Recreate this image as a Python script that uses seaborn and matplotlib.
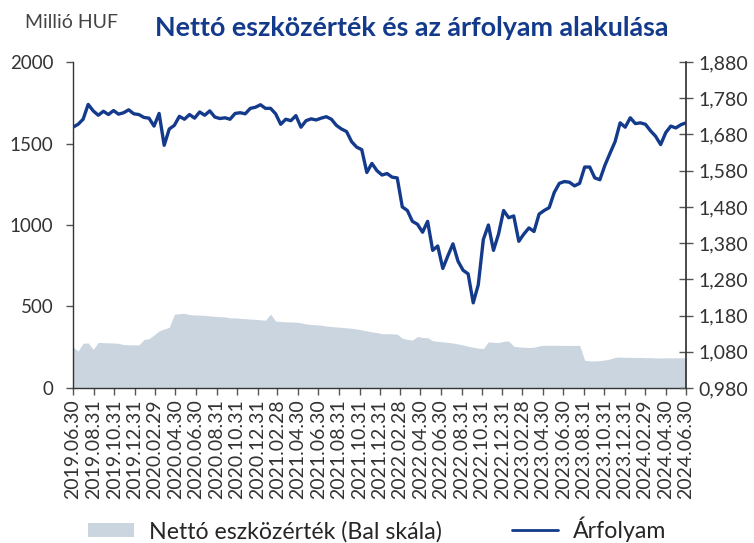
import numpy as np
import pandas as pd
import matplotlib.pyplot as plt
import seaborn as sns
from matplotlib.patches import Patch
from matplotlib.lines import Line2D

sns.set_theme(style="white")
plt.rcParams['font.family'] = ['Lato', 'DejaVu Sans']

# semi-monthly readings, 2019.06.30 - 2024.06.30
price = [1.700, 1.708, 1.722, 1.763, 1.745, 1.733, 1.744, 1.735, 1.746, 1.736,
         1.740, 1.748, 1.737, 1.735, 1.727, 1.725, 1.703, 1.738, 1.650, 1.695,
         1.705, 1.730, 1.722, 1.735, 1.725, 1.742, 1.733, 1.745, 1.728, 1.724,
         1.726, 1.722, 1.738, 1.740, 1.737, 1.752, 1.755, 1.762, 1.752, 1.752,
         1.737, 1.708, 1.722, 1.718, 1.732, 1.700, 1.718, 1.723, 1.720, 1.725,
         1.729, 1.722, 1.705, 1.695, 1.688, 1.660, 1.645, 1.638, 1.575, 1.600,
         1.580, 1.568, 1.572, 1.562, 1.560, 1.480, 1.470, 1.440, 1.432, 1.410,
         1.440, 1.360, 1.372, 1.310, 1.345, 1.378, 1.330, 1.305, 1.295, 1.215,
         1.265, 1.390, 1.430, 1.360, 1.405, 1.470, 1.450, 1.455, 1.385, 1.405,
         1.422, 1.412, 1.460, 1.470, 1.478, 1.520, 1.545, 1.550, 1.548, 1.538,
         1.545, 1.590, 1.590, 1.560, 1.555, 1.595, 1.628, 1.660, 1.712, 1.700,
         1.726, 1.710, 1.712, 1.708, 1.690, 1.675, 1.652, 1.685, 1.703, 1.698,
         1.707, 1.712]

nav = [250, 227, 275, 276, 237, 280, 278, 277, 276, 274,
       266, 265, 265, 264, 297, 302, 325, 350, 362, 372,
       452, 456, 458, 450, 448, 447, 446, 442, 440, 437,
       436, 430, 430, 427, 425, 423, 421, 418, 416, 453,
       410, 408, 406, 405, 404, 400, 393, 390, 388, 385,
       380, 377, 374, 372, 369, 366, 362, 356, 350, 344,
       340, 333, 333, 332, 330, 305, 298, 294, 316, 310,
       308, 290, 286, 283, 280, 276, 270, 264, 256, 250,
       244, 242, 283, 280, 278, 286, 288, 256, 252, 250,
       248, 250, 258, 262, 262, 262, 262, 261, 261, 261,
       262, 170, 166, 166, 168, 172, 178, 188, 190, 188,
       188, 187, 187, 186, 186, 184, 184, 185, 185, 185,
       185, 185]

tick_labels = ["2019.06.30", "2019.08.31", "2019.10.31", "2019.12.31", "2020.02.29",
               "2020.04.30", "2020.06.30", "2020.08.31", "2020.10.31", "2020.12.31",
               "2021.02.28", "2021.04.30", "2021.06.30", "2021.08.31", "2021.10.31",
               "2021.12.31", "2022.02.28", "2022.04.30", "2022.06.30", "2022.08.31",
               "2022.10.31", "2022.12.31", "2023.02.28", "2023.04.30", "2023.06.30",
               "2023.08.31", "2023.10.31", "2023.12.31", "2024.02.29", "2024.04.30",
               "2024.06.30"]

dates = pd.date_range("2019-06-30", "2024-06-30", periods=len(price))
df = pd.DataFrame({"date": dates, "price": price, "nav": nav})

blue = "#143a8c"
grey = "#cbd5df"
dark = "#333333"

fig = plt.figure(figsize=(7.54, 5.43), dpi=100)
ax = fig.add_axes([0.0968, 0.2855, 0.813, 0.6003])
ax.fill_between(df["date"], df["nav"], color=grey, lw=0)
ax2 = ax.twinx()
sns.lineplot(data=df, x="date", y="price", ax=ax2, color=blue, lw=2.4)

ax.set_xlim(dates[0], dates[-1])
ax.set_ylim(0, 2000)
ax2.set_ylim(0.98, 1.88)
ax.set_yticks([0, 500, 1000, 1500, 2000])
rticks = np.arange(0.98, 1.881, 0.1)
ax2.set_yticks(rticks)
ax2.set_yticklabels([f"{v:.3f}".replace(".", ",") for v in rticks])
ax.set_xticks(pd.to_datetime(tick_labels, format="%Y.%m.%d"))
ax.set_xticklabels(tick_labels, rotation=90)
ax.set_xlabel("")
ax2.set_xlabel("")
ax2.set_ylabel("")

for a in (ax, ax2):
    a.spines["top"].set_visible(False)
ax.spines["right"].set_visible(False)
ax2.spines["left"].set_visible(False)
ax2.spines["bottom"].set_visible(False)
for s in ("left", "bottom"):
    ax.spines[s].set_color(dark)
    ax.spines[s].set_linewidth(1.0)
ax2.spines["right"].set_color(dark)

ax.tick_params(axis="y", left=True, direction="out", length=5, width=1, color="#555555",
               labelsize=13.5, labelcolor=dark, pad=9)
ax.tick_params(axis="x", bottom=True, direction="out", length=5, width=1, color="#555555",
               labelsize=14, labelcolor=dark, pad=3)
ax2.tick_params(axis="y", right=True, direction="inout", length=10, width=1, color="#555555",
                labelsize=14, labelcolor=dark, pad=4)

fig.text(0.033, 0.958, "Millió HUF", fontsize=14, color="#444444", va="center")
fig.text(0.546, 0.948, "Nettó eszközérték és az árfolyam alakulása", fontsize=19.4,
         fontweight="bold", color=blue, ha="center", va="center")

handles = [Patch(facecolor=grey, edgecolor="none"),
           Line2D([0], [0], color=blue, lw=2)]
fig.legend(handles, ["Nettó eszközérték (Bal skála)", "Árfolyam"], loc="center",
           bbox_to_anchor=(0.5, 0.025), ncol=2, frameon=False, fontsize=16.7,
           handlelength=2.0, handleheight=0.6, columnspacing=3.0, handletextpad=0.65)

fig.savefig("out.png", dpi=100)
